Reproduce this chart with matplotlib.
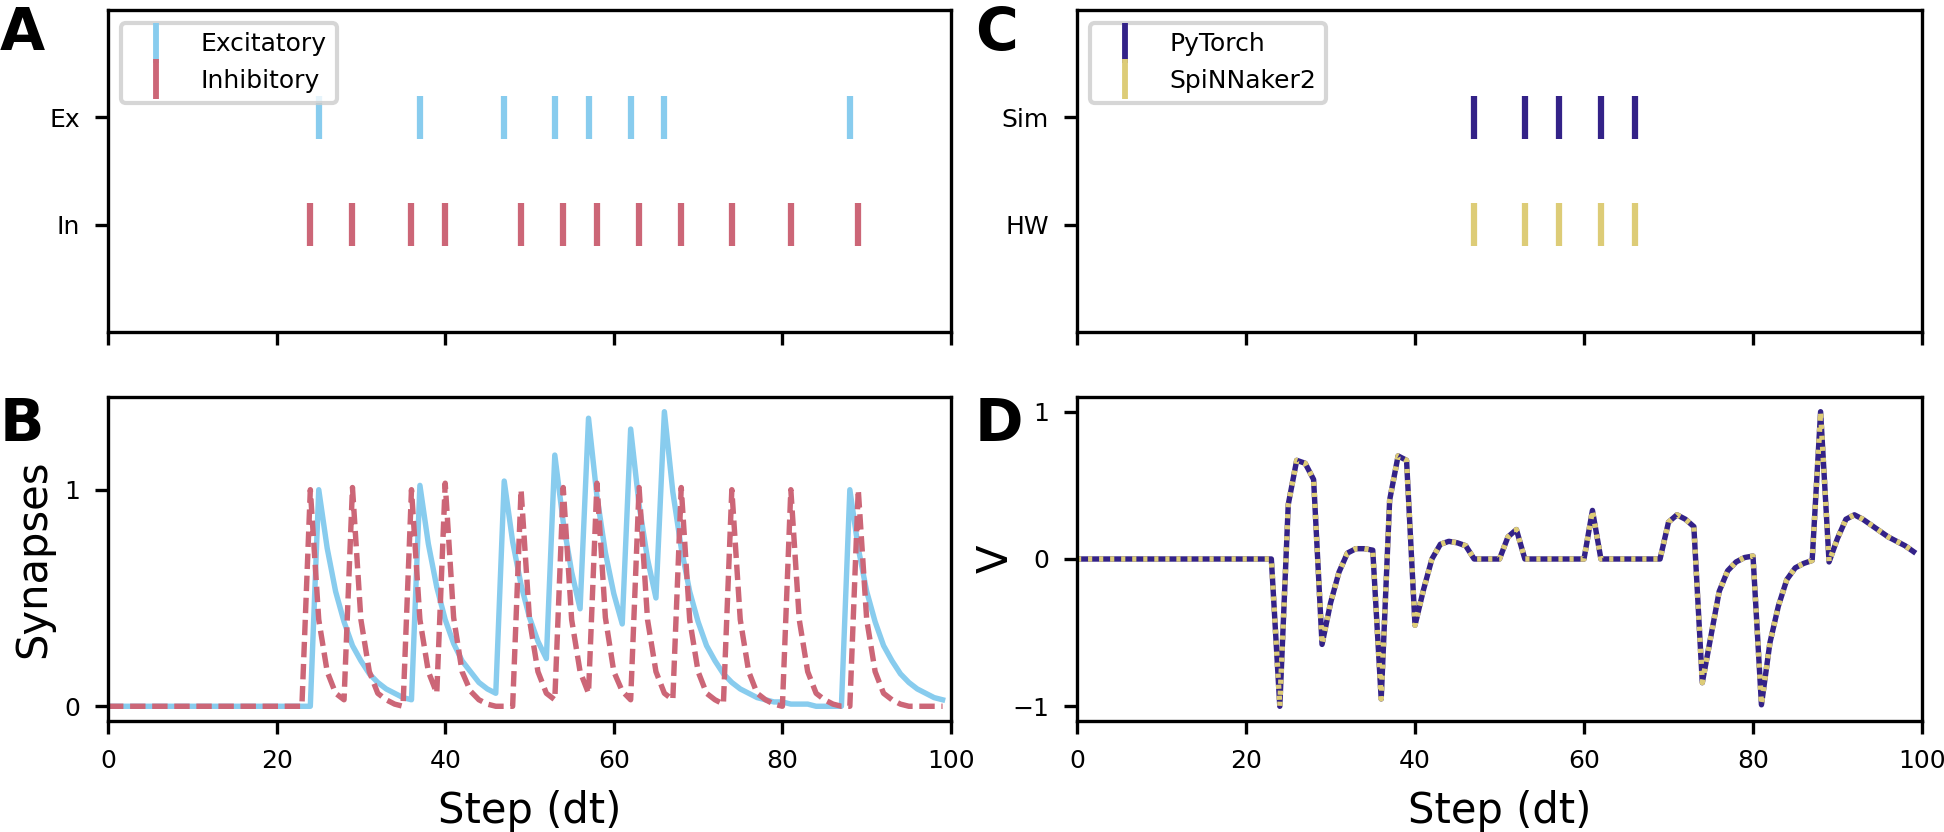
import matplotlib
matplotlib.use("Agg")
import matplotlib.pyplot as plt
from matplotlib.lines import Line2D

# colours (Tol muted)
EX_COLOR = "#88CCEE"
IN_COLOR = "#CC6677"
SIM_COLOR = "#332288"
HW_COLOR = "#DDCC77"

# spike times (steps)
ex_spikes = [25, 37, 47, 53, 57, 62, 66, 88]
in_spikes = [24, 29, 36, 40, 49, 54, 58, 63, 68, 74, 81, 89]
sim_spikes = [47, 53, 57, 62, 66]
hw_spikes = [47, 53, 57, 62, 66]

steps = list(range(100))

# excitatory synapse trace
syn_ex = [0.0] * 25 + [
    1.00, 0.73, 0.53, 0.39, 0.28, 0.21, 0.15, 0.11, 0.08, 0.06, 0.04, 0.03,   # 25-36
    1.02, 0.75, 0.55, 0.40, 0.29, 0.21, 0.16, 0.11, 0.08, 0.06,               # 37-46
    1.04, 0.76, 0.56, 0.41, 0.30, 0.22,                                       # 47-52
    1.16, 0.85, 0.62, 0.45,                                                   # 53-56
    1.33, 0.97, 0.71, 0.52, 0.38,                                             # 57-61
    1.28, 0.93, 0.68, 0.50,                                                   # 62-65
    1.36, 0.99, 0.73, 0.53, 0.39, 0.28, 0.21, 0.15, 0.11, 0.08, 0.06,         # 66-76
    0.04, 0.03, 0.02, 0.02, 0.01, 0.01, 0.01, 0.00, 0.00, 0.00, 0.00,         # 77-87
    1.00, 0.73, 0.53, 0.39, 0.28, 0.21, 0.15, 0.11, 0.08, 0.06, 0.04, 0.03,   # 88-99
]

# inhibitory synapse trace
syn_in = [0.0] * 24 + [
    1.00, 0.40, 0.16, 0.06, 0.03,                    # 24-28
    1.01, 0.40, 0.16, 0.06, 0.03, 0.01, 0.00,        # 29-35
    1.00, 0.40, 0.16, 0.06,                          # 36-39
    1.03, 0.41, 0.16, 0.07, 0.03, 0.01, 0.00, 0.00, 0.00,  # 40-48
    1.00, 0.40, 0.16, 0.06, 0.03,                    # 49-53
    1.01, 0.40, 0.16, 0.06,                          # 54-57
    1.03, 0.41, 0.16, 0.07, 0.03,                    # 58-62
    1.01, 0.40, 0.16, 0.06, 0.03,                    # 63-67
    1.01, 0.40, 0.16, 0.06, 0.03, 0.01,              # 68-73
    1.00, 0.40, 0.16, 0.06, 0.03, 0.01, 0.00,        # 74-80
    1.00, 0.40, 0.16, 0.06, 0.03, 0.01, 0.00, 0.00,  # 81-88
    1.00, 0.40, 0.16, 0.06, 0.03, 0.01, 0.00, 0.00, 0.00, 0.00, 0.00,  # 89-99
]

# membrane potential
v_sim = [0.0] * 24 + [
    -1.00, 0.37, 0.67, 0.65, 0.54,                   # 24-28
    -0.58, -0.30, -0.09, 0.04, 0.07, 0.07, 0.06,     # 29-35
    -0.95, 0.40, 0.70, 0.67,                         # 36-39
    -0.45, -0.21, 0.00, 0.10, 0.12, 0.11, 0.09,      # 40-46
    0.00, 0.00, 0.00, 0.00, 0.15, 0.20,              # 47-52
    0.00, 0.00, 0.00, 0.00, 0.00, 0.00, 0.00, 0.00,  # 53-60
    0.33, 0.00, 0.00, 0.00, 0.00, 0.00, 0.00, 0.00, 0.00,  # 61-69
    0.25, 0.30, 0.27, 0.22,                          # 70-73
    -0.84, -0.53, -0.22, -0.08, -0.02, 0.01, 0.02,   # 74-80
    -0.99, -0.57, -0.32, -0.14, -0.06, -0.03, -0.01, # 81-87
    1.00, -0.02, 0.14, 0.27, 0.30, 0.27, 0.23, 0.19, 0.15, 0.12, 0.09, 0.05,  # 88-99
]
v_hw = list(v_sim)

W, H = 1944, 832
plt.rcParams["font.family"] = ["DejaVu Sans"]
plt.rcParams["xtick.labelsize"] = 6
plt.rcParams["ytick.labelsize"] = 6
plt.rcParams["legend.fontsize"] = 6
plt.rcParams["xtick.major.size"] = 3.2
plt.rcParams["ytick.major.size"] = 3.2
plt.rcParams["lines.scale_dashes"] = False

fig = plt.figure(figsize=(W / 300, H / 300), dpi=300)
axA = fig.add_axes([108 / W, 1 - 332 / H, 843 / W, 322 / H])
axB = fig.add_axes([108 / W, 1 - 721 / H, 843 / W, 324 / H], sharex=axA)
axC = fig.add_axes([1077 / W, 1 - 332 / H, 845 / W, 322 / H])
axD = fig.add_axes([1077 / W, 1 - 721 / H, 845 / W, 324 / H], sharex=axC)


def raster(ax, top, bottom, top_color, bottom_color, labels, names):
    ax.eventplot([top, bottom], lineoffsets=[1, 0], linelengths=0.4,
                 colors=[top_color, bottom_color], linewidths=1.5)
    ax.set_ylim(-1, 2)
    ax.set_yticks([1, 0])
    ax.set_yticklabels(labels)
    ax.tick_params(axis="x", labelbottom=False)
    handles = [Line2D([0], [0], color=c, marker="|", linestyle="None",
                      markersize=9.4, markeredgewidth=1.4)
               for c in (top_color, bottom_color)]
    ax.legend(handles, names, loc="upper left")


raster(axA, ex_spikes, in_spikes, EX_COLOR, IN_COLOR, ["Ex", "In"],
       ["Excitatory", "Inhibitory"])
raster(axC, sim_spikes, hw_spikes, SIM_COLOR, HW_COLOR, ["Sim", "HW"],
       ["PyTorch", "SpiNNaker2"])

# synapses
axB.plot(steps, syn_ex, color=EX_COLOR, lw=1.3)
axB.plot(steps, syn_in, color=IN_COLOR, lw=1.3, linestyle="--")
axB.set_xlim(0, 100)
axB.set_yticks([0, 1])
axB.set_xlabel("Step (dt)", fontsize=10)
axB.set_ylabel("Synapses", fontsize=10)
axB.yaxis.set_label_coords(-0.064, 0.5)

# voltage
axD.plot(steps, v_sim, color=SIM_COLOR, lw=1.3)
axD.plot(steps, v_hw, color=HW_COLOR, lw=1.3, linestyle=":")
axD.set_xlim(0, 100)
axD.set_yticks([-1, 0, 1])
axD.set_xlabel("Step (dt)", fontsize=10)
axD.set_ylabel("V", fontsize=10)
axD.yaxis.set_label_coords(-0.071, 0.5)

for letter, x, y in [("A", 0, 5), ("B", 0, 396), ("C", 975, 5), ("D", 975, 396)]:
    fig.text(x / W, 1 - y / H, letter, fontsize=14, fontweight="bold",
             ha="left", va="top")

fig.savefig("out.png", dpi=300)
